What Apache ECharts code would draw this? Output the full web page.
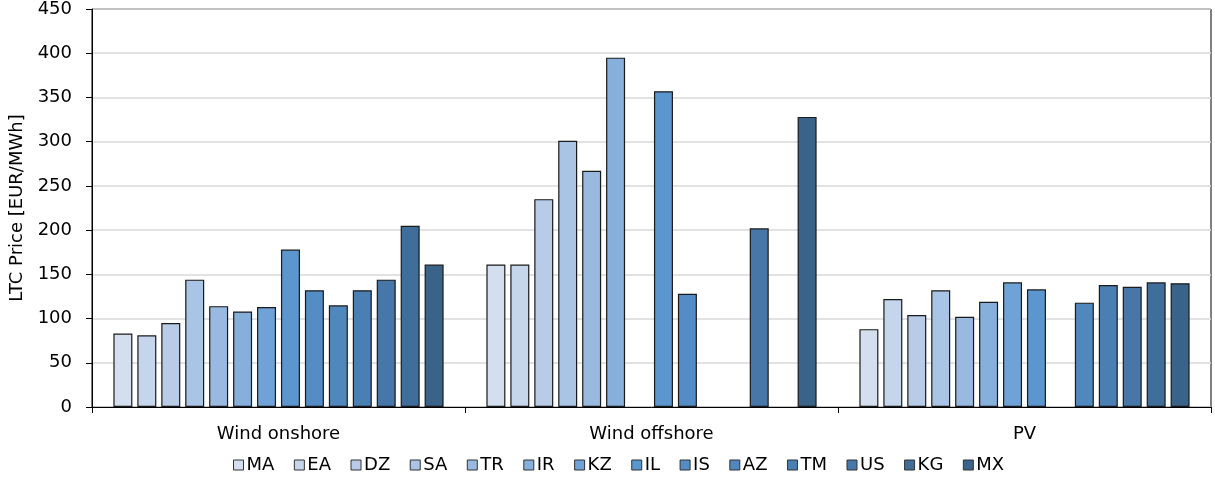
<!DOCTYPE html>
<html><head><meta charset="utf-8">
<script src="https://cdn.jsdelivr.net/npm/echarts@6/dist/echarts.min.js"></script>
<style>html,body{margin:0;padding:0;background:#fff}#c{width:1215px;height:486px}</style>
</head><body><div id="c"></div>
<script>
const categories = ['Wind onshore', 'Wind offshore', 'PV'];
const seriesNames = ['MA','EA','DZ','SA','TR','IR','KZ','IL','IS','AZ','TM','US','KG','MX'];
const MA = [83, 161, 88];
const EA = [81, 161, 122];
const DZ = [95, 235, 104];
const SA = [144, 301, 132];
const TR = [114, 267, 102];
const IR = [108, 395, 119];
const KZ = [113, null, 141];
const IL = [178, 357, 133];
const IS = [132, 128, null];
const AZ = [115, null, 118];
const TM = [132, null, 138];
const US = [144, 202, 136];
const KG = [205, null, 141];
const MX = [161, 328, 140];
const values = [MA, EA, DZ, SA, TR, IR, KZ, IL, IS, AZ, TM, US, KG, MX];
const colors = ['#d3deef','#c5d5ec','#b8cce8','#a9c4e5','#9ab9e0','#86afdc','#6fa2d6','#5b96cf','#548dc5','#5088bd','#4a7fb3','#4677a8','#3f6e9b','#3a6389'];
const yTicks = [0, 50, 100, 150, 200, 250, 300, 350, 400, 450];

const font = 'DejaVu Sans';
const chart = echarts.init(document.getElementById('c'));
chart.setOption({
  animation: false,
  textStyle: { fontFamily: font },
  grid: { left: 92, right: 4, top: 9, bottom: 79, show: true, borderColor: '#000', borderWidth: 1,
          containLabel: false, outerBoundsMode: 'none' },
  legend: {
    bottom: 7, left: 228,
    itemWidth: 10, itemHeight: 10, itemGap: 19.5,
    icon: 'rect',
    textStyle: { fontFamily: font, fontSize: 18, color: '#000', padding: [0, 0, 0, -2] },
    data: seriesNames.map((n, i) => ({ name: n, itemStyle: { color: colors[i], borderColor: '#333', borderWidth: 1 } }))
  },
  xAxis: {
    type: 'category', data: categories,
    axisLine: { lineStyle: { color: '#000', width: 1 } },
    axisTick: { show: true, length: 6, lineStyle: { color: '#000' }, alignWithLabel: false },
    axisLabel: { fontFamily: font, fontSize: 18, color: '#000', margin: 18 }
  },
  yAxis: {
    type: 'value', min: 0, max: 450, interval: 50,
    name: 'LTC Price [EUR/MWh]', nameLocation: 'middle', nameGap: 60, nameRotate: 90,
    nameTextStyle: { fontFamily: font, fontSize: 18, color: '#000' },
    axisLine: { show: true, lineStyle: { color: '#000', width: 1 } },
    axisTick: { show: true, length: 6, lineStyle: { color: '#000' } },
    axisLabel: { fontFamily: font, fontSize: 18, color: '#000', margin: 20,
      formatter: v => yTicks.includes(v) ? String(v) : '' },
    splitLine: { lineStyle: { color: '#d9d9d9', width: 1.5 } }
  },
  series: seriesNames.map((n, i) => ({
    name: n, type: 'bar', data: values[i],
    barWidth: 19, barGap: '26%',
    itemStyle: { color: colors[i], borderColor: '#1a1a1a', borderWidth: 1.2 }
  }))
});
</script></body></html>
